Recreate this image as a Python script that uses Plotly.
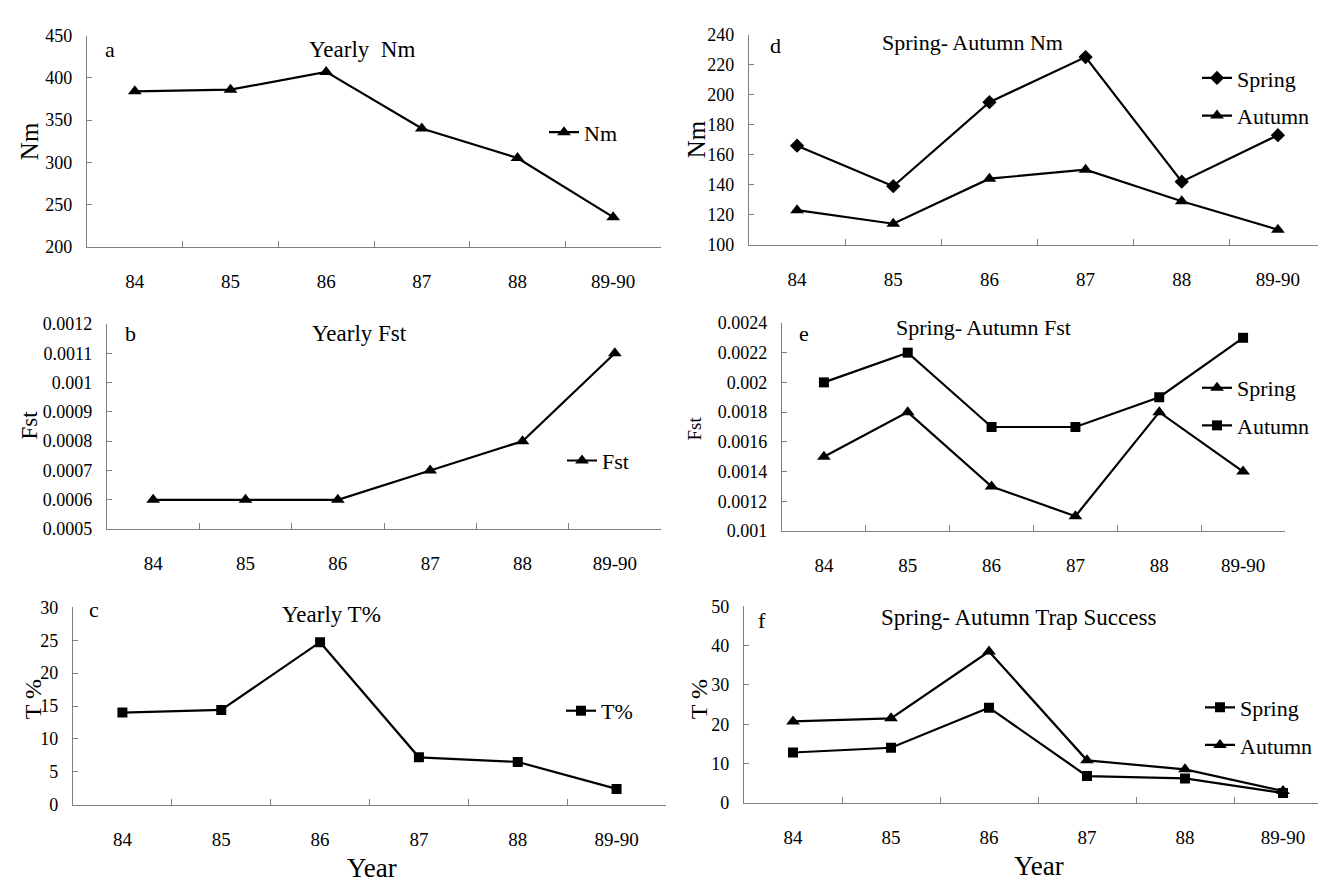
import plotly.graph_objects as go

years = ["84", "85", "86", "87", "88", "89-90"]

nm_yearly = [384, 386, 407, 340, 305, 235]
fst_yearly = [0.0006, 0.0006, 0.0006, 0.0007, 0.0008, 0.0011]
t_yearly = [14.0, 14.4, 24.7, 7.2, 6.5, 2.4]

nm_spring = [166, 139, 195, 225, 142, 173]
nm_autumn = [123, 114, 144, 150, 129, 110]
fst_spring = [0.0015, 0.0018, 0.0013, 0.0011, 0.0018, 0.0014]
fst_autumn = [0.0020, 0.0022, 0.0017, 0.0017, 0.0019, 0.0023]
t_spring = [12.8, 14.0, 24.2, 6.8, 6.2, 2.5]
t_autumn = [20.7, 21.5, 38.5, 10.8, 8.5, 3.0]

nm_a_ticks = [200, 250, 300, 350, 400, 450]
fst_b_ticks = [0.0005, 0.0006, 0.0007, 0.0008, 0.0009, 0.001, 0.0011, 0.0012]
fst_b_text = ["0.0005", "0.0006", "0.0007", "0.0008", "0.0009", "0.001", "0.0011", "0.0012"]
t_c_ticks = [0, 5, 10, 15, 20, 25, 30]
nm_d_ticks = [100, 120, 140, 160, 180, 200, 220, 240]
fst_e_ticks = [0.001, 0.0012, 0.0014, 0.0016, 0.0018, 0.002, 0.0022, 0.0024]
fst_e_text = ["0.001", "0.0012", "0.0014", "0.0016", "0.0018", "0.002", "0.0022", "0.0024"]
t_f_ticks = [0, 10, 20, 30, 40, 50]

W, H = 1326, 881
FONT = "Liberation Serif"

# panel boxes in pixels: x0, x1, y0(top), y1(bottom)
boxes = {
    1: (79, 653, 18, 234),
    2: (99, 653, 313, 523),
    3: (65, 658, 603, 805),
    4: (741, 1318, 17, 232),
    5: (774, 1277, 312, 525),
    6: (736, 1324, 602, 803),
}

fig = go.Figure()

def add(panel, y, name, symbol, size, legend):
    fig.add_trace(go.Scatter(
        x=years, y=y, name=name, mode="lines+markers",
        line=dict(color="black", width=2.2),
        marker=dict(symbol=symbol, size=size, color="black"),
        xaxis="x" if panel == 1 else f"x{panel}",
        yaxis="y" if panel == 1 else f"y{panel}",
        legend=legend, legendgroup=f"{legend}-{name}",
    ))

add(1, nm_yearly, "Nm", "triangle-up", 12, "legend")
add(2, fst_yearly, "Fst", "triangle-up", 12, "legend2")
add(3, t_yearly, "T%", "square", 10, "legend3")
add(4, nm_spring, "Spring", "diamond", 11, "legend4")
add(4, nm_autumn, "Autumn", "triangle-up", 12, "legend4")
add(5, fst_spring, "Spring", "triangle-up", 12, "legend5")
add(5, fst_autumn, "Autumn", "square", 10, "legend5")
add(6, t_spring, "Spring", "square", 10, "legend6")
add(6, t_autumn, "Autumn", "triangle-up", 12, "legend6")

yspecs = {
    1: dict(range=[200, 450], tickvals=nm_a_ticks),
    2: dict(range=[0.0005, 0.0012], tickvals=fst_b_ticks, ticktext=fst_b_text),
    3: dict(range=[0, 30], tickvals=t_c_ticks),
    4: dict(range=[100, 240], tickvals=nm_d_ticks),
    5: dict(range=[0.001, 0.0024], tickvals=fst_e_ticks, ticktext=fst_e_text),
    6: dict(range=[0, 50], tickvals=t_f_ticks),
}

layout = dict(
    width=W, height=H, margin=dict(l=0, r=0, t=0, b=0),
    paper_bgcolor="white", plot_bgcolor="white",
    font=dict(family=FONT, color="black"),
)

for p, (x0, x1, y0, y1) in boxes.items():
    xk = "xaxis" if p == 1 else f"xaxis{p}"
    yk = "yaxis" if p == 1 else f"yaxis{p}"
    layout[xk] = dict(
        domain=[x0 / W, x1 / W], anchor="y" if p == 1 else f"y{p}",
        type="category", range=[-0.5, 5.5], tickson="boundaries",
        ticks="inside", ticklen=6, tickcolor="#808080",
        showline=True, linecolor="#808080", linewidth=1.2,
        showgrid=False, zeroline=False, fixedrange=True,
        tickfont=dict(family=FONT, size=19, color="black"),
        ticklabelstandoff=17,
    )
    ys = yspecs[p]
    layout[yk] = dict(
        domain=[1 - y1 / H, 1 - y0 / H], anchor="x" if p == 1 else f"x{p}",
        range=ys["range"], tickvals=ys["tickvals"],
        ticktext=ys.get("ticktext"),
        ticks="inside", ticklen=5, tickcolor="#808080",
        showline=True, linecolor="#808080", linewidth=1.2,
        showgrid=False, zeroline=False, fixedrange=True,
        tickfont=dict(family=FONT, size=18, color="black"),
        ticklabelstandoff=10,
    )

def leg(xpx, ypx):
    return dict(x=xpx / W, y=1 - ypx / H, xanchor="left", yanchor="middle",
                bgcolor="rgba(0,0,0,0)", font=dict(family=FONT, size=22, color="black"),
                tracegroupgap=6, itemclick=False, itemdoubleclick=False)

layout["legend"] = leg(536, 117)
layout["legend2"] = leg(554, 453)
layout["legend3"] = leg(553, 709)
layout["legend4"] = leg(1189, 81)
layout["legend5"] = leg(1189, 398)
layout["legend6"] = leg(1192, 725)
layout["showlegend"] = True

fig.update_layout(**layout)

def ann(text, x, y, size, angle=0):
    fig.add_annotation(text=text, x=x / W, y=1 - y / H, xref="paper", yref="paper",
                       showarrow=False, textangle=angle,
                       font=dict(family=FONT, size=size, color="black"),
                       xanchor="center", yanchor="middle")

# panel titles
ann("Yearly  Nm", 354, 32, 23)
ann("Yearly Fst", 351, 323, 23)
ann("Yearly T%", 323, 610, 23)
ann("Spring- Autumn Nm", 964, 25, 22)
ann("Spring- Autumn Fst", 975, 317, 22)
ann("Spring- Autumn Trap Success", 1010, 613, 23)

# panel letters
ann("a", 102, 32, 22)
ann("b", 122, 323, 22)
ann("c", 86, 605, 22)
ann("d", 767, 28, 22)
ann("e", 796, 323, 22)
ann("f", 754, 617, 22)

# y-axis titles
ann("Nm", 21, 126, 25, -90)
ann("Fst", 22, 417, 23, -90)
ann("T %", 25, 697, 24, -90)
ann("Nm", 688, 124, 25, -90)
ann("Fst", 686, 420, 19, -90)
ann("T %", 691, 697, 24, -90)

# x-axis titles
ann("Year", 364, 870, 27)
ann("Year", 1031, 868, 27)

fig.write_html("out.html")
